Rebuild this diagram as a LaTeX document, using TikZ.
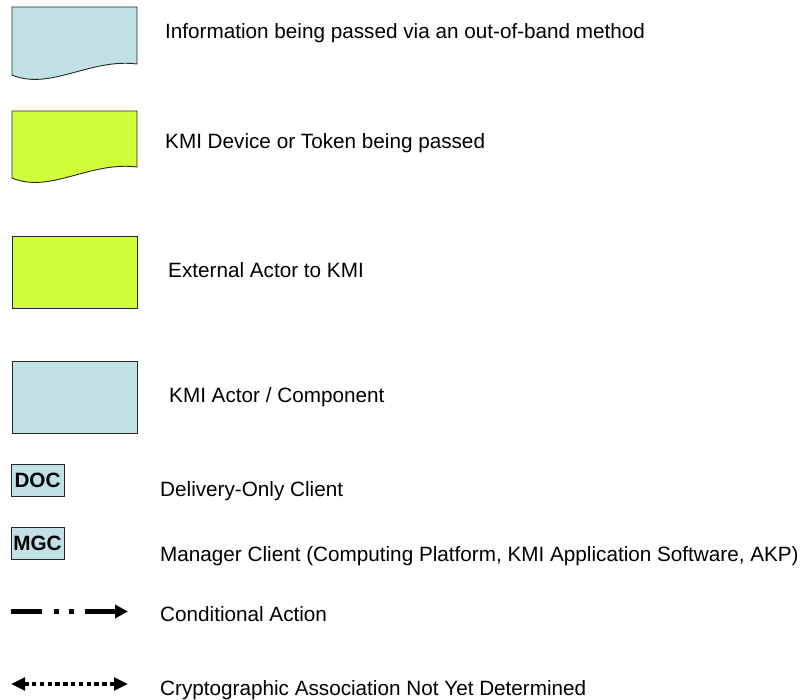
\documentclass[tikz,border=0pt]{standalone}
\usepackage{fontspec}
\setmainfont{Liberation Sans}
\usetikzlibrary{arrows.meta}
\definecolor{kmiblue}{RGB}{193,225,229}
\definecolor{kmilime}{RGB}{208,255,58}
\begin{document}
\begin{tikzpicture}[x=1pt,y=-1pt,
  every node/.style={font=\fontsize{20.7}{24}\selectfont},
  legendtext/.style={anchor=base west, inner sep=0pt},
  shapeline/.style={draw=black!85, line width=0.9pt},
  actorbox/.style={shapeline, minimum width=125pt, minimum height=72pt, inner sep=0pt},
  clientbox/.style={shapeline, fill=kmiblue, minimum width=53pt, minimum height=32pt,
    inner sep=0pt, font=\fontsize{20.7}{24}\selectfont\bfseries},
  condline/.style={line width=4.5pt, dash pattern=on 31pt off 12pt on 5pt off 10pt on 5pt off 11pt on 60pt,
    -{Triangle[length=13pt,width=13pt]}},
  cryptoline/.style={line width=4pt, dash pattern=on 4.5pt off 3.3pt,
    {Triangle[length=14pt,width=12.5pt]}-{Triangle[length=14pt,width=12.5pt]}},
]
\useasboundingbox (0,0) rectangle (803,699);

% document shapes with a wavy lower edge
\path[shapeline, fill=kmiblue] (12,7) -- (137,7) -- (137,64)
  .. controls (90,58) and (50,91) .. (12,75) -- cycle;
\path[shapeline, fill=kmilime] (12,111) -- (137,111) -- (137,167)
  .. controls (90,161) and (50,194) .. (12,178) -- cycle;

% plain boxes
\node[actorbox, fill=kmilime] (ext) at (74.5,272) {};
\node[actorbox, fill=kmiblue] (kmi) at (74.5,397) {};

% client boxes
\node[clientbox] (doc) at (37.5,480) {DOC};
\node[clientbox] (mgc) at (37.5,543.5) {MGC};

% line styles
\coordinate (c1) at (11,611.5);
\coordinate (c2) at (128,611.5);
\draw[condline] (c1) -- (c2);
\coordinate (k1) at (11,684);
\coordinate (k2) at (128,684);
\draw[cryptoline] (k1) -- (k2);

% legend texts
\node[legendtext] (t1) at (165,38) {Information being passed via an out-of-band method};
\node[legendtext] (t2) at (165,148) {KMI Device or Token being passed};
\node[legendtext] (t3) at (168,277) {External Actor to KMI};
\node[legendtext] (t4) at (169,402) {KMI Actor / Component};
\node[legendtext] (t5) at (160,496) {Delivery-Only Client};
\node[legendtext] (t6) at (160,561) {Manager Client (Computing Platform, KMI Application Software, AKP)};
\node[legendtext] (t7) at (160,621) {Conditional Action};
\node[legendtext] (t8) at (160,695) {Cryptographic Association Not Yet Determined};
\end{tikzpicture}
\end{document}
